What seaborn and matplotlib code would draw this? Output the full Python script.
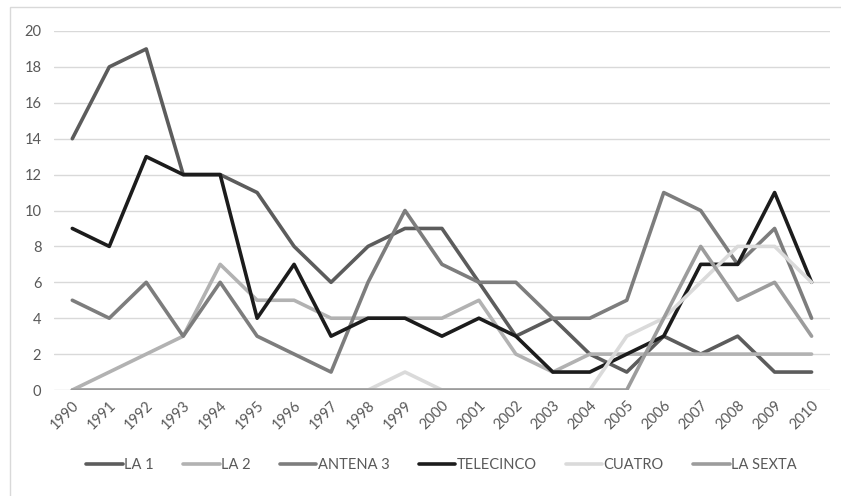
import matplotlib
matplotlib.use("Agg")
import matplotlib.pyplot as plt
import matplotlib.patches as mpatches
import pandas as pd
import seaborn as sns

years = list(range(1990, 2011))
channels = ["LA 1", "LA 2", "ANTENA 3", "TELECINCO", "CUATRO", "LA SEXTA"]

la1 = [14, 18, 19, 12, 12, 11, 8, 6, 8, 9, 9, 6, 3, 4, 2, 1, 3, 2, 3, 1, 1]
la2 = [0, 1, 2, 3, 7, 5, 5, 4, 4, 4, 4, 5, 2, 1, 2, 2, 2, 2, 2, 2, 2]
antena3 = [5, 4, 6, 3, 6, 3, 2, 1, 6, 10, 7, 6, 6, 4, 4, 5, 11, 10, 7, 9, 4]
telecinco = [9, 8, 13, 12, 12, 4, 7, 3, 4, 4, 3, 4, 3, 1, 1, 2, 3, 7, 7, 11, 6]
cuatro = [0, 0, 0, 0, 0, 0, 0, 0, 0, 1, 0, 0, 0, 0, 0, 3, 4, 6, 8, 8, 6]
lasexta = [0, 0, 0, 0, 0, 0, 0, 0, 0, 0, 0, 0, 0, 0, 0, 0, 4, 8, 5, 6, 3]

y_ticks = [0, 2, 4, 6, 8, 10, 12, 14, 16, 18, 20]

series = [la1, la2, antena3, telecinco, cuatro, lasexta]
df = pd.DataFrame({
    "year": years * len(channels),
    "canal": [c for c in channels for _ in years],
    "valor": [v for s in series for v in s],
})

colors = {
    "LA 1": "#5c5c5c",
    "LA 2": "#b2b2b2",
    "ANTENA 3": "#7d7d7d",
    "TELECINCO": "#1c1c1c",
    "CUATRO": "#dadada",
    "LA SEXTA": "#9c9c9c",
}

sns.set_theme(style="white")
plt.rcParams["font.family"] = ["Lato", "DejaVu Sans"]

fig = plt.figure(figsize=(8.41, 4.96), dpi=100)
ax = fig.add_axes([0.064, 0.2137, 0.923, 0.7238])

sns.lineplot(data=df, x="year", y="valor", hue="canal", hue_order=channels,
             palette=colors, linewidth=2.6, ax=ax, legend=True, sort=False)

ax.set_xlim(1989.5, 2010.5)
ax.set_ylim(0, 20)
ax.set_yticks(y_ticks)
ax.set_xticks(years)
ax.set_xticklabels([str(y) for y in years], rotation=45, ha="right",
                   rotation_mode="anchor")
ax.grid(axis="y", color="#d9d9d9", linewidth=1.0)
ax.set_axisbelow(True)
for s in ax.spines.values():
    s.set_visible(False)
ax.set_xlabel("")
ax.set_ylabel("")
ax.tick_params(axis="y", length=0, pad=9, labelsize=10.5, labelcolor="#595959")
ax.tick_params(axis="x", length=0, pad=6, labelsize=10.5, labelcolor="#595959")

handles, labels = ax.get_legend_handles_labels()
ax.legend_.remove()
fig.legend(handles, labels, loc="center", bbox_to_anchor=(0.525, 0.062),
           ncol=6, frameon=False, fontsize=10.5, handlelength=2.5,
           handletextpad=0.1, columnspacing=2.0, labelcolor="#595959")

# light frame around the chart area
frame = mpatches.Rectangle((10 / 841, -0.05), 1.2, 1.05 - 7.5 / 496,
                           transform=fig.transFigure, fill=False,
                           edgecolor="#d9d9d9", linewidth=1.0, clip_on=False)
fig.patches.append(frame)

fig.savefig("out.png", dpi=100)
